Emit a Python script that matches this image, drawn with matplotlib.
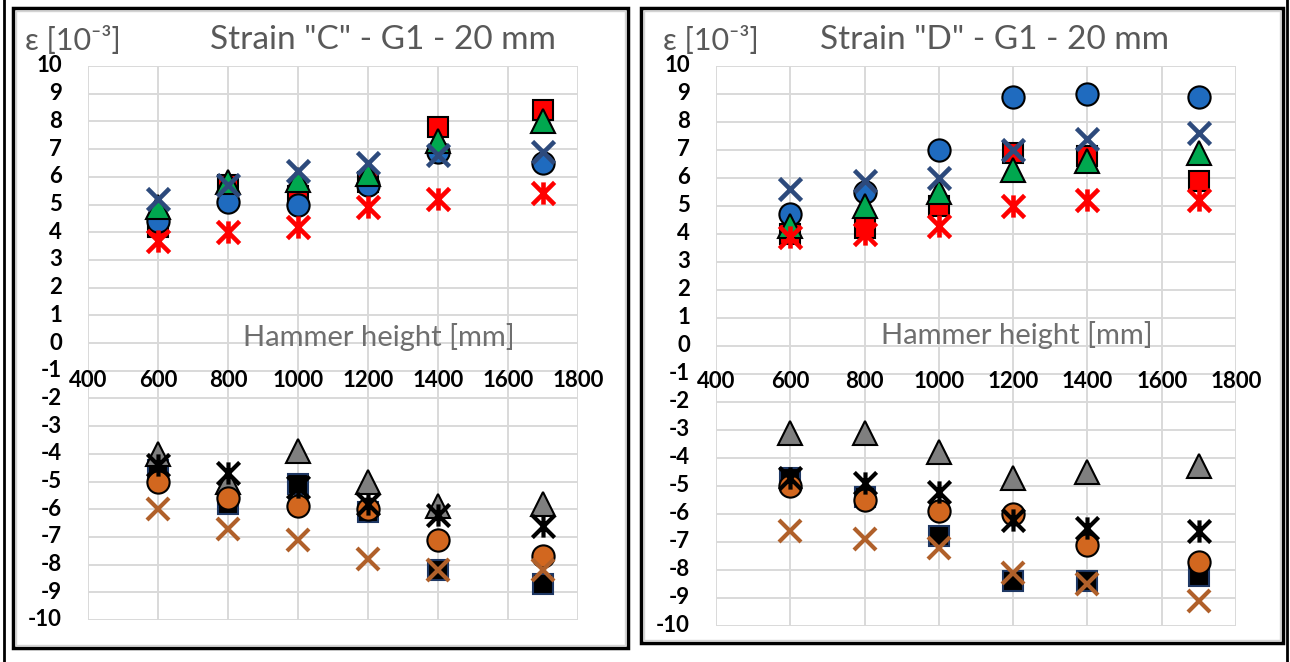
import matplotlib
matplotlib.use("Agg")
import matplotlib.pyplot as plt
from matplotlib.path import Path
from matplotlib.patches import Rectangle
from matplotlib.transforms import blended_transform_factory

plt.rcParams['font.family'] = ['Lato', 'DejaVu Sans']

W, H = 1290, 662

# Hammer drop heights [mm]
heights = [600, 800, 1000, 1200, 1400, 1700]
x_ticks = [400, 600, 800, 1000, 1200, 1400, 1600, 1800]
y_ticks = list(range(-10, 11))

# ---- Strain "C" (tension) ----
c_circle   = [4.4, 5.1, 5.0, 5.7, 6.9, 6.5]
c_square   = [4.2, 5.7, 5.3, 5.8, 7.8, 8.4]
c_triangle = [4.9, 5.8, 5.9, 6.1, 7.3, 8.0]
c_cross    = [5.2, 5.7, 6.2, 6.5, 6.8, 6.9]
c_star     = [3.7, 4.0, 4.2, 4.9, 5.2, 5.4]
# ---- Strain "C" (compression) ----
c_sq_neg   = [-4.6, -5.8, -5.1, -6.1, -8.2, -8.7]
c_ci_neg   = [-5.0, -5.6, -5.9, -6.0, -7.1, -7.7]
c_tr_neg   = [-4.0, -5.0, -3.9, -5.0, -5.9, -5.8]
c_st_neg   = [-4.4, -4.7, -5.2, -5.8, -6.2, -6.6]
c_cr_neg   = [-6.0, -6.7, -7.1, -7.8, -8.2, -8.2]

# ---- Strain "D" (tension) ----
d_circle   = [4.7, 5.5, 7.0, 8.9, 9.0, 8.9]
d_square   = [4.0, 4.2, 5.0, 6.9, 6.8, 5.9]
d_triangle = [4.3, 5.0, 5.5, 6.3, 6.6, 6.9]
d_cross    = [5.6, 5.9, 6.0, 7.0, 7.4, 7.6]
d_star     = [3.9, 4.0, 4.3, 5.0, 5.2, 5.2]
# ---- Strain "D" (compression) ----
d_sq_neg   = [-4.7, -5.4, -6.8, -8.4, -8.4, -8.2]
d_ci_neg   = [-5.0, -5.5, -5.9, -6.0, -7.1, -7.7]
d_tr_neg   = [-3.1, -3.1, -3.8, -4.7, -4.5, -4.3]
d_st_neg   = [-4.7, -4.9, -5.2, -6.2, -6.5, -6.6]
d_cr_neg   = [-6.6, -6.9, -7.2, -8.1, -8.5, -9.1]

titles = ['Strain "C" - G1 - 20 mm', 'Strain "D" - G1 - 20 mm']

# asterisk: X plus vertical bar
star_path = Path([(0, -1), (0, 1), (-1, -1), (1, 1), (-1, 1), (1, -1)],
                 [Path.MOVETO, Path.LINETO] * 3)

BLUE = '#1f6bbf'
RED = '#ff0000'
GREEN = '#00a84f'
NAVY = '#2d4a7c'
ORANGE = '#d2671f'
GRAY = '#7f7f7f'
BROWN = '#b0602a'


def px_box(left, right, top, bottom):
    return [left / W, (H - bottom) / H, (right - left) / W, (bottom - top) / H]


fig = plt.figure(figsize=(W / 100, H / 100), dpi=100)
fig.patch.set_facecolor('white')

# frames around both panels
bg = fig.add_axes([0, 0, 1, 1], zorder=-5)
bg.set_xlim(0, W)
bg.set_ylim(H, 0)
bg.axis('off')
for (x0, y0, w, h) in [(13, 8, 615, 640), (641, 8, 642, 635)]:
    bg.add_patch(Rectangle((x0, y0), w, h, fill=False, ec='black', lw=2.5))
    bg.add_patch(Rectangle((x0 + 3, y0 + 3), w - 6, h - 6, fill=False, ec='#d4d4d4', lw=1))
bg.plot([4, 4], [0, H], color='black', lw=2)
bg.plot([1287, 1287], [0, H], color='black', lw=2)

# overlay for captions drawn on top of the plot areas
fg = fig.add_axes([0, 0, 1, 1], zorder=10)
fg.set_xlim(0, W)
fg.set_ylim(H, 0)
fg.axis('off')
fg.patch.set_alpha(0)

panels = [
    dict(box=px_box(88, 578, 66, 620), ylab_x=62, xlab_y=-1.35, hh=(379, 337),
         title_x=383, eps_x=25,
         pos=(c_circle, c_square, c_triangle, c_cross, c_star),
         neg=(c_sq_neg, c_ci_neg, c_tr_neg, c_st_neg, c_cr_neg)),
    dict(box=px_box(716, 1236, 66, 626), ylab_x=690, xlab_y=-1.25, hh=(1017, 335),
         title_x=995, eps_x=663,
         pos=(d_circle, d_square, d_triangle, d_cross, d_star),
         neg=(d_sq_neg, d_ci_neg, d_tr_neg, d_st_neg, d_cr_neg)),
]

for i, p in enumerate(panels):
    ax = fig.add_axes(p['box'])
    ax.set_xlim(400, 1800)
    ax.set_ylim(-10, 10)
    ax.set_xticks(x_ticks)
    ax.set_yticks(y_ticks)
    ax.grid(True, color='#d9d9d9', lw=1.4)
    ax.tick_params(length=0, labelbottom=False, labelleft=False)
    for s in ax.spines.values():
        s.set_visible(False)
    ax.set_axisbelow(True)

    circ, sq, tri, crs, st = p['pos']
    ax.plot(heights, sq, ls='none', marker='s', ms=15, mfc=RED, mec='black', mew=1.5, zorder=3, clip_on=False)
    ax.plot(heights, circ, ls='none', marker='o', ms=16, mfc=BLUE, mec='black', mew=1.5, zorder=4, clip_on=False)
    ax.plot(heights, tri, ls='none', marker='^', ms=17, mfc=GREEN, mec='black', mew=1.5, zorder=5, clip_on=False)
    ax.plot(heights, crs, ls='none', marker='x', ms=16, mec=NAVY, mew=3.3, zorder=6, clip_on=False)
    ax.plot(heights, st, ls='none', marker=star_path, ms=16, mec=RED, mew=3.3, zorder=7, clip_on=False)

    sqn, cin, trn, stn, crn = p['neg']
    ax.plot(heights, sqn, ls='none', marker='s', ms=15, mfc='black', mec='#1f3864', mew=1.5, zorder=3, clip_on=False)
    ax.plot(heights, trn, ls='none', marker='^', ms=17, mfc=GRAY, mec='black', mew=1.5, zorder=4, clip_on=False)
    ax.plot(heights, cin, ls='none', marker='o', ms=16, mfc=ORANGE, mec='black', mew=1.5, zorder=5, clip_on=False)
    ax.plot(heights, stn, ls='none', marker=star_path, ms=16, mec='black', mew=3.0, zorder=6, clip_on=False)
    ax.plot(heights, crn, ls='none', marker='x', ms=16, mec=BROWN, mew=3.0, zorder=7, clip_on=False)

    # y tick labels, right-aligned left of the plot area
    ytr = blended_transform_factory(bg.transData, ax.transData)
    for v in y_ticks:
        ax.text(p['ylab_x'], v, str(v), transform=ytr, ha='right', va='center',
                fontsize=16, fontweight='bold', color='black', clip_on=False)
    # x tick labels just under the zero line
    for v in x_ticks:
        ax.text(v, p['xlab_y'], str(v), ha='center', va='center',
                fontsize=16, fontweight='bold', color='black', clip_on=False, zorder=8)

    # axis captions and title
    fg.text(p['hh'][0], p['hh'][1], 'Hammer height [mm]', ha='center', va='center',
            fontsize=21, color='#6f6f6f')
    fg.text(p['title_x'], 40, titles[i], ha='center', va='center',
            fontsize=24, color='#595959')
    fg.text(p['eps_x'], 40, 'ε [10⁻³]', ha='left', va='center',
            fontsize=22, color='#595959')

fig.savefig('out.png', dpi=100, facecolor='white')
